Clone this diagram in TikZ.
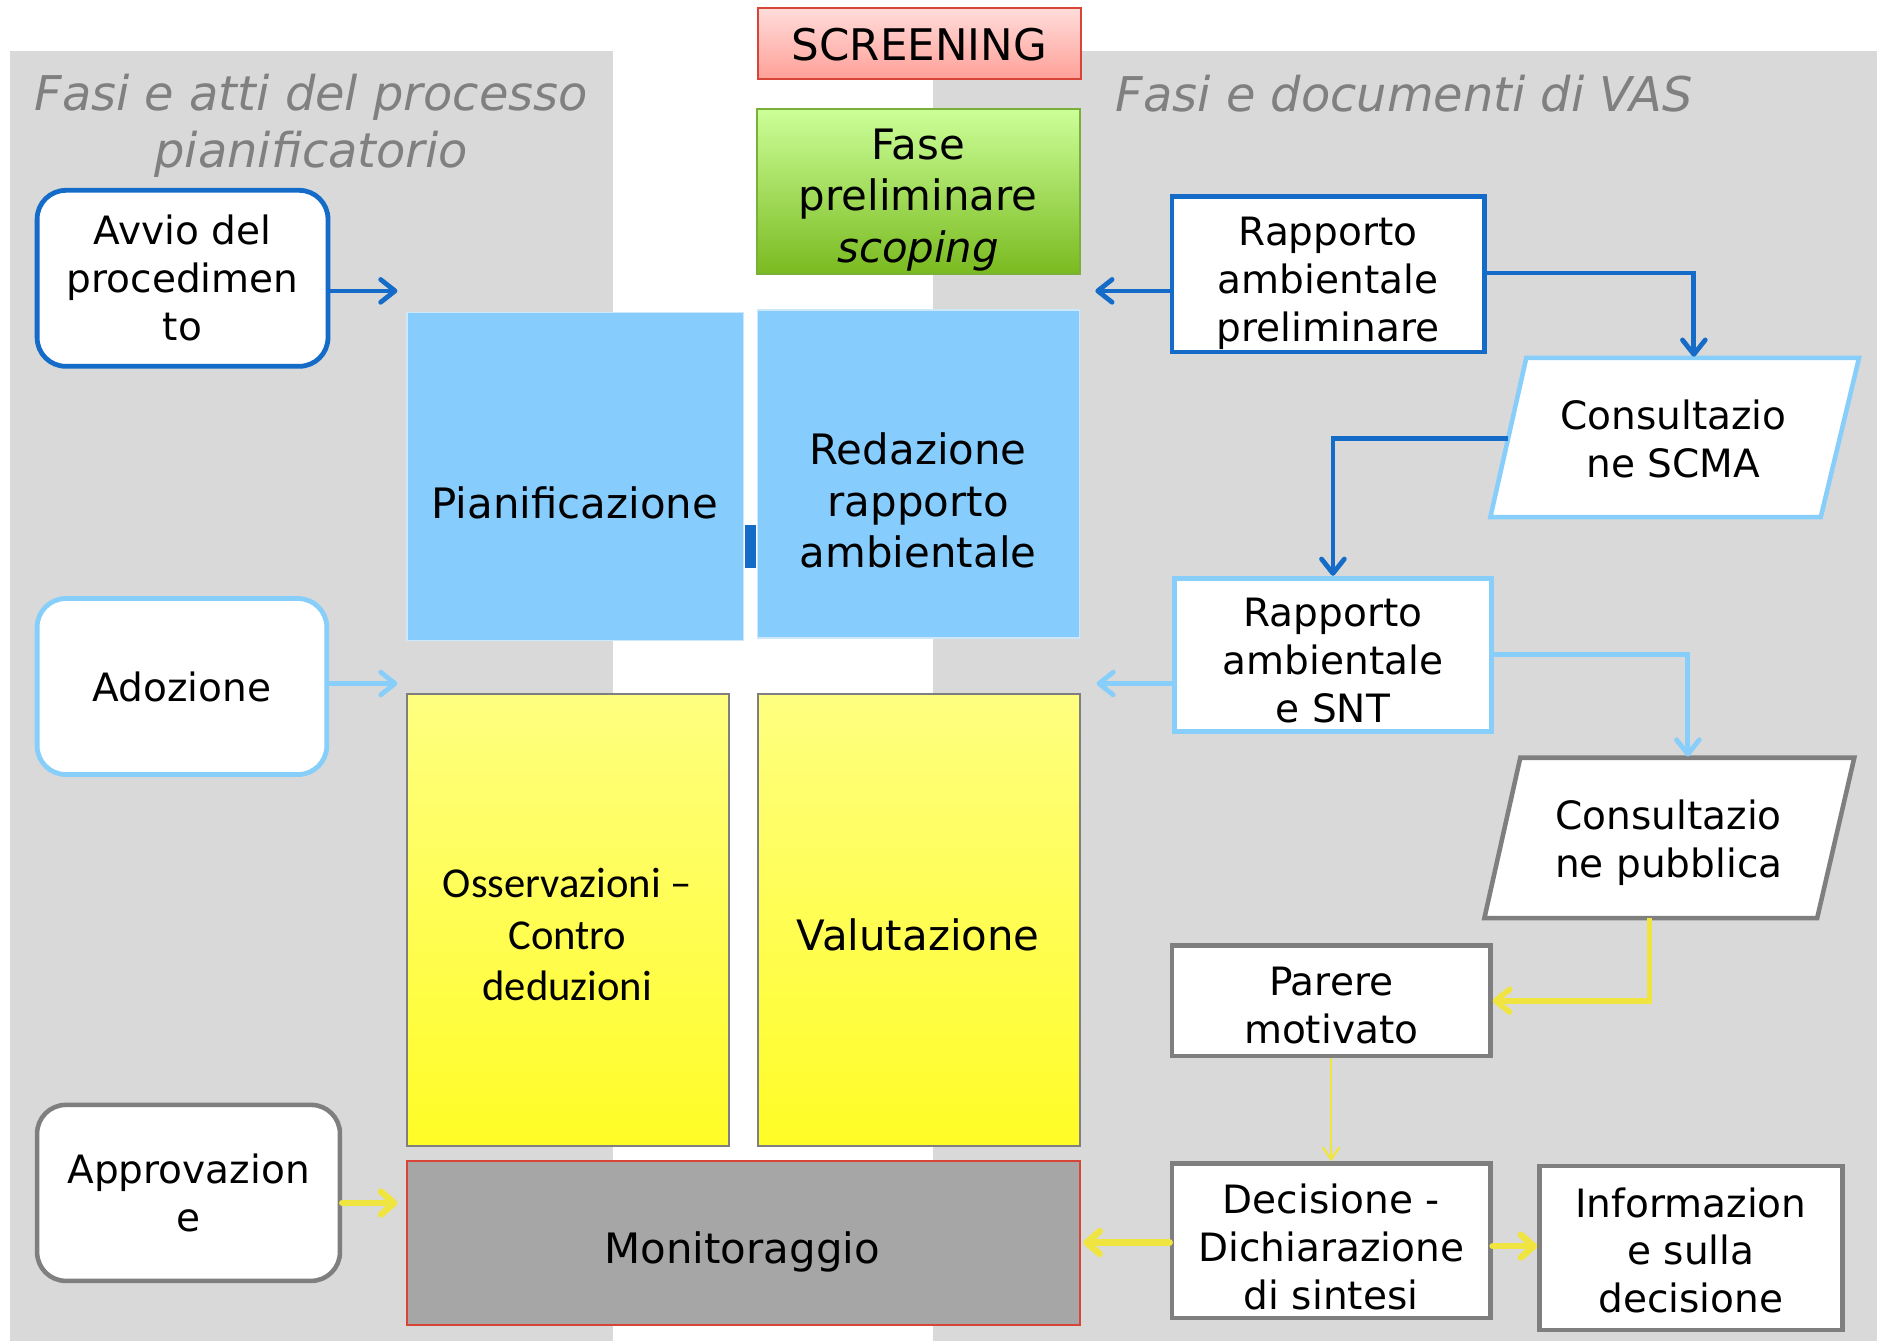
\documentclass[tikz,border=0pt]{standalone}
\usepackage{fontspec}
\setmainfont{DejaVu Sans}
\newfontfamily\calib{Carlito}
\usetikzlibrary{arrows.meta}
\definecolor{panel}{RGB}{217,217,217}
\definecolor{dblue}{RGB}{20,108,200}
\definecolor{lblue}{RGB}{135,206,250}
\definecolor{boxblue}{RGB}{134,204,253}
\definecolor{boxblueb}{RGB}{205,232,250}
\definecolor{ylw}{RGB}{240,228,64}
\definecolor{gborder}{RGB}{127,127,127}
\definecolor{redb}{RGB}{214,69,53}
\definecolor{titlegray}{RGB}{128,128,128}
\begin{document}
\begin{tikzpicture}[x=0.5pt,y=-0.5pt,
  bigtxt/.style={font=\fontsize{17.5}{21.5}\selectfont, align=center, inner sep=0pt},
  smalltxt/.style={font=\fontsize{16.3}{20}\selectfont, align=center, inner sep=0pt},
  titletxt/.style={font=\fontsize{20}{24}\selectfont\itshape, text=titlegray, align=center, inner sep=0pt},
  sidebox/.style={draw, fill=white, line width=1.9pt, rounded corners=12pt, smalltxt},
  rbox/.style={draw, fill=white, line width=1.9pt, inner sep=0pt},
  bluebox/.style={draw=boxblueb, fill=boxblue, line width=0.6pt, inner sep=0pt},
  yelbox/.style={draw=gborder, top color={rgb,255:red,255;green,255;blue,128}, bottom color={rgb,255:red,255;green,252;blue,38}, line width=0.8pt, inner sep=0pt},
  arr/.style={line width=2pt, line cap=round, -{Straight Barb[length=6pt,width=9.5pt,round]}},
  yarr/.style={line width=2.7pt, line cap=round, -{Straight Barb[length=5.5pt,width=9.5pt,round]}},
  arrthin/.style={line width=1pt, -{Straight Barb[length=5pt,width=7pt]}}
]
\useasboundingbox (0,0) rectangle (1568,1120);
\fill[white] (0,0) rectangle (1568,1120);
% panels
\fill[panel] (8,43) rectangle (512,1120);
\fill[panel] (779,43) rectangle (1568,1120);
% titles
\node[titletxt] (t1) at (260,105) {Fasi e atti del processo\\pianificatorio};
\node[titletxt] (t2) at (1173,78) {Fasi e documenti di VAS};
% central boxes
\node[draw=redb, line width=0.9pt, top color={rgb,255:red,255;green,220;blue,218}, bottom color={rgb,255:red,255;green,160;blue,152}, minimum width=135pt, minimum height=29.5pt, inner sep=0pt] (scr) at (768,36.5) {};
\node[font=\fontsize{18.2}{22}\selectfont, inner sep=0pt] (scrT) at (768,37.5) {SCREENING};
\node[draw={rgb,255:red,122;green,176;blue,58}, line width=0.8pt, top color={rgb,255:red,204;green,255;blue,153}, bottom color={rgb,255:red,122;green,186;blue,32}, minimum width=135pt, minimum height=69pt, inner sep=0pt] (fase) at (767,160) {};
\node[bigtxt] (faseT) at (767,167) {Fase\\preliminare\\\textit{scoping}};
\node[bluebox, minimum width=140.5pt, minimum height=137pt] (pian) at (480.5,398) {};
\node[bigtxt] (pianT) at (480,420) {Pianificazione};
\node[bluebox, minimum width=134.5pt, minimum height=137pt] (red) at (767.5,396) {};
\node[bigtxt] (redT) at (767,418) {Redazione\\rapporto\\ambientale};
\node[fill=dblue, minimum width=4.3pt, minimum height=18pt, inner sep=0pt] (bar) at (627,456.5) {};
\node[yelbox, minimum width=134.5pt, minimum height=188.5pt] (oss) at (474.5,768.5) {};
\node[font=\calib\fontsize{17.8}{21.5}\selectfont, align=center, inner sep=0pt] (ossT) at (474,781) {Osservazioni –\\Contro\\deduzioni};
\node[yelbox, minimum width=134.5pt, minimum height=188.5pt] (val) at (767.5,768.5) {};
\node[bigtxt] (valT) at (767,781) {Valutazione};
\node[draw=redb, fill={rgb,255:red,166;green,166;blue,166}, line width=0.9pt, minimum width=281pt, minimum height=68.5pt, inner sep=0pt] (mon) at (621,1038.5) {};
\node[bigtxt] (monT) at (620,1046) {Monitoraggio};
% left side
\node[sidebox, draw=dblue, line width=2pt, minimum width=121.5pt, minimum height=73.5pt] (avvio) at (152.5,232.5) {Avvio del\\procedimen\\to};
\node[sidebox, draw=lblue, line width=2pt, minimum width=121pt, minimum height=73.5pt] (adoz) at (152,573.5) {Adozione};
\node[sidebox, draw=gborder, minimum width=126.5pt, minimum height=73.5pt] (appr) at (157.5,996.5) {Approvazion\\e};
% right side
\node[rbox, draw=dblue, line width=2pt, minimum width=130.5pt, minimum height=65pt] (rap) at (1109.5,229) {};
\node[smalltxt] (rapT) at (1109.5,237) {Rapporto\\ambientale\\preliminare};
\draw[lblue, line width=1.9pt, fill=white] (1275,299) -- (1553,299) -- (1521,432) -- (1245,432) -- cycle;
\node[smalltxt] (scma) at (1398,367) {Consultazio\\ne SCMA};
\node[rbox, draw=lblue, line width=2pt, minimum width=132.5pt, minimum height=64pt] (snt) at (1113.5,547) {};
\node[smalltxt] (sntT) at (1113.5,552) {Rapporto\\ambientale\\e SNT};
\draw[gborder, line width=1.9pt, fill=white] (1270,633) -- (1549,633) -- (1518,767) -- (1240,767) -- cycle;
\node[smalltxt] (pub) at (1394,704) {Consultazio\\ne pubblica};
\node[rbox, draw=gborder, minimum width=133pt, minimum height=46pt] (par) at (1112,836) {};
\node[smalltxt] (parT) at (1112,840) {Parere\\motivato};
\node[rbox, draw=gborder, minimum width=133pt, minimum height=64.5pt] (dec) at (1112,1036.5) {};
\node[smalltxt] (decT) at (1112,1041.5) {Decisione -\\Dichiarazione\\di sintesi};
\node[rbox, draw=gborder, minimum width=126.5pt, minimum height=68.5pt] (inf) at (1412.5,1042.5) {};
\node[smalltxt] (infT) at (1412.5,1044.5) {Informazion\\e sulla\\decisione};
% coordinates for connector ends
\coordinate (avE) at (332,243);
\coordinate (adE) at (332,571);
\coordinate (apE) at (332,1005);
\coordinate (rapE) at (915,243);
\coordinate (sntE) at (916,571);
\coordinate (decE) at (905,1038);
\coordinate (scmaTop) at (1415,298);
\coordinate (scmaL) at (1260,366);
\coordinate (pubTop) at (1410,632);
\coordinate (pubBot) at (1378,767);
% connectors
\draw[arr, dblue] (avvio.east |- avE) -- (avE);
\draw[arr, lblue] (adoz.east |- adE) -- (adE);
\draw[yarr, ylw] (appr.east |- apE) -- (apE);
\draw[arr, dblue] (rap.west |- rapE) -- (rapE);
\draw[arr, dblue, line cap=butt] (rap.east |- 0,228) -| (scmaTop);
\draw[arr, dblue, line cap=butt] (scmaL) -| (snt.north);
\draw[arr, lblue] (snt.west |- sntE) -- (sntE);
\draw[arr, lblue, line cap=butt] (snt.east) -| (pubTop);
\draw[arr, ylw, line width=2.3pt, line cap=butt] (pubBot) |- (par.east);
\draw[arrthin, ylw] (par.south) -- (dec.north);
\draw[yarr, ylw] (dec.west |- decE) -- (decE);
\draw[yarr, ylw] (dec.east |- 0,1041) -- (inf.west |- 0,1041);
\end{tikzpicture}
\end{document}
